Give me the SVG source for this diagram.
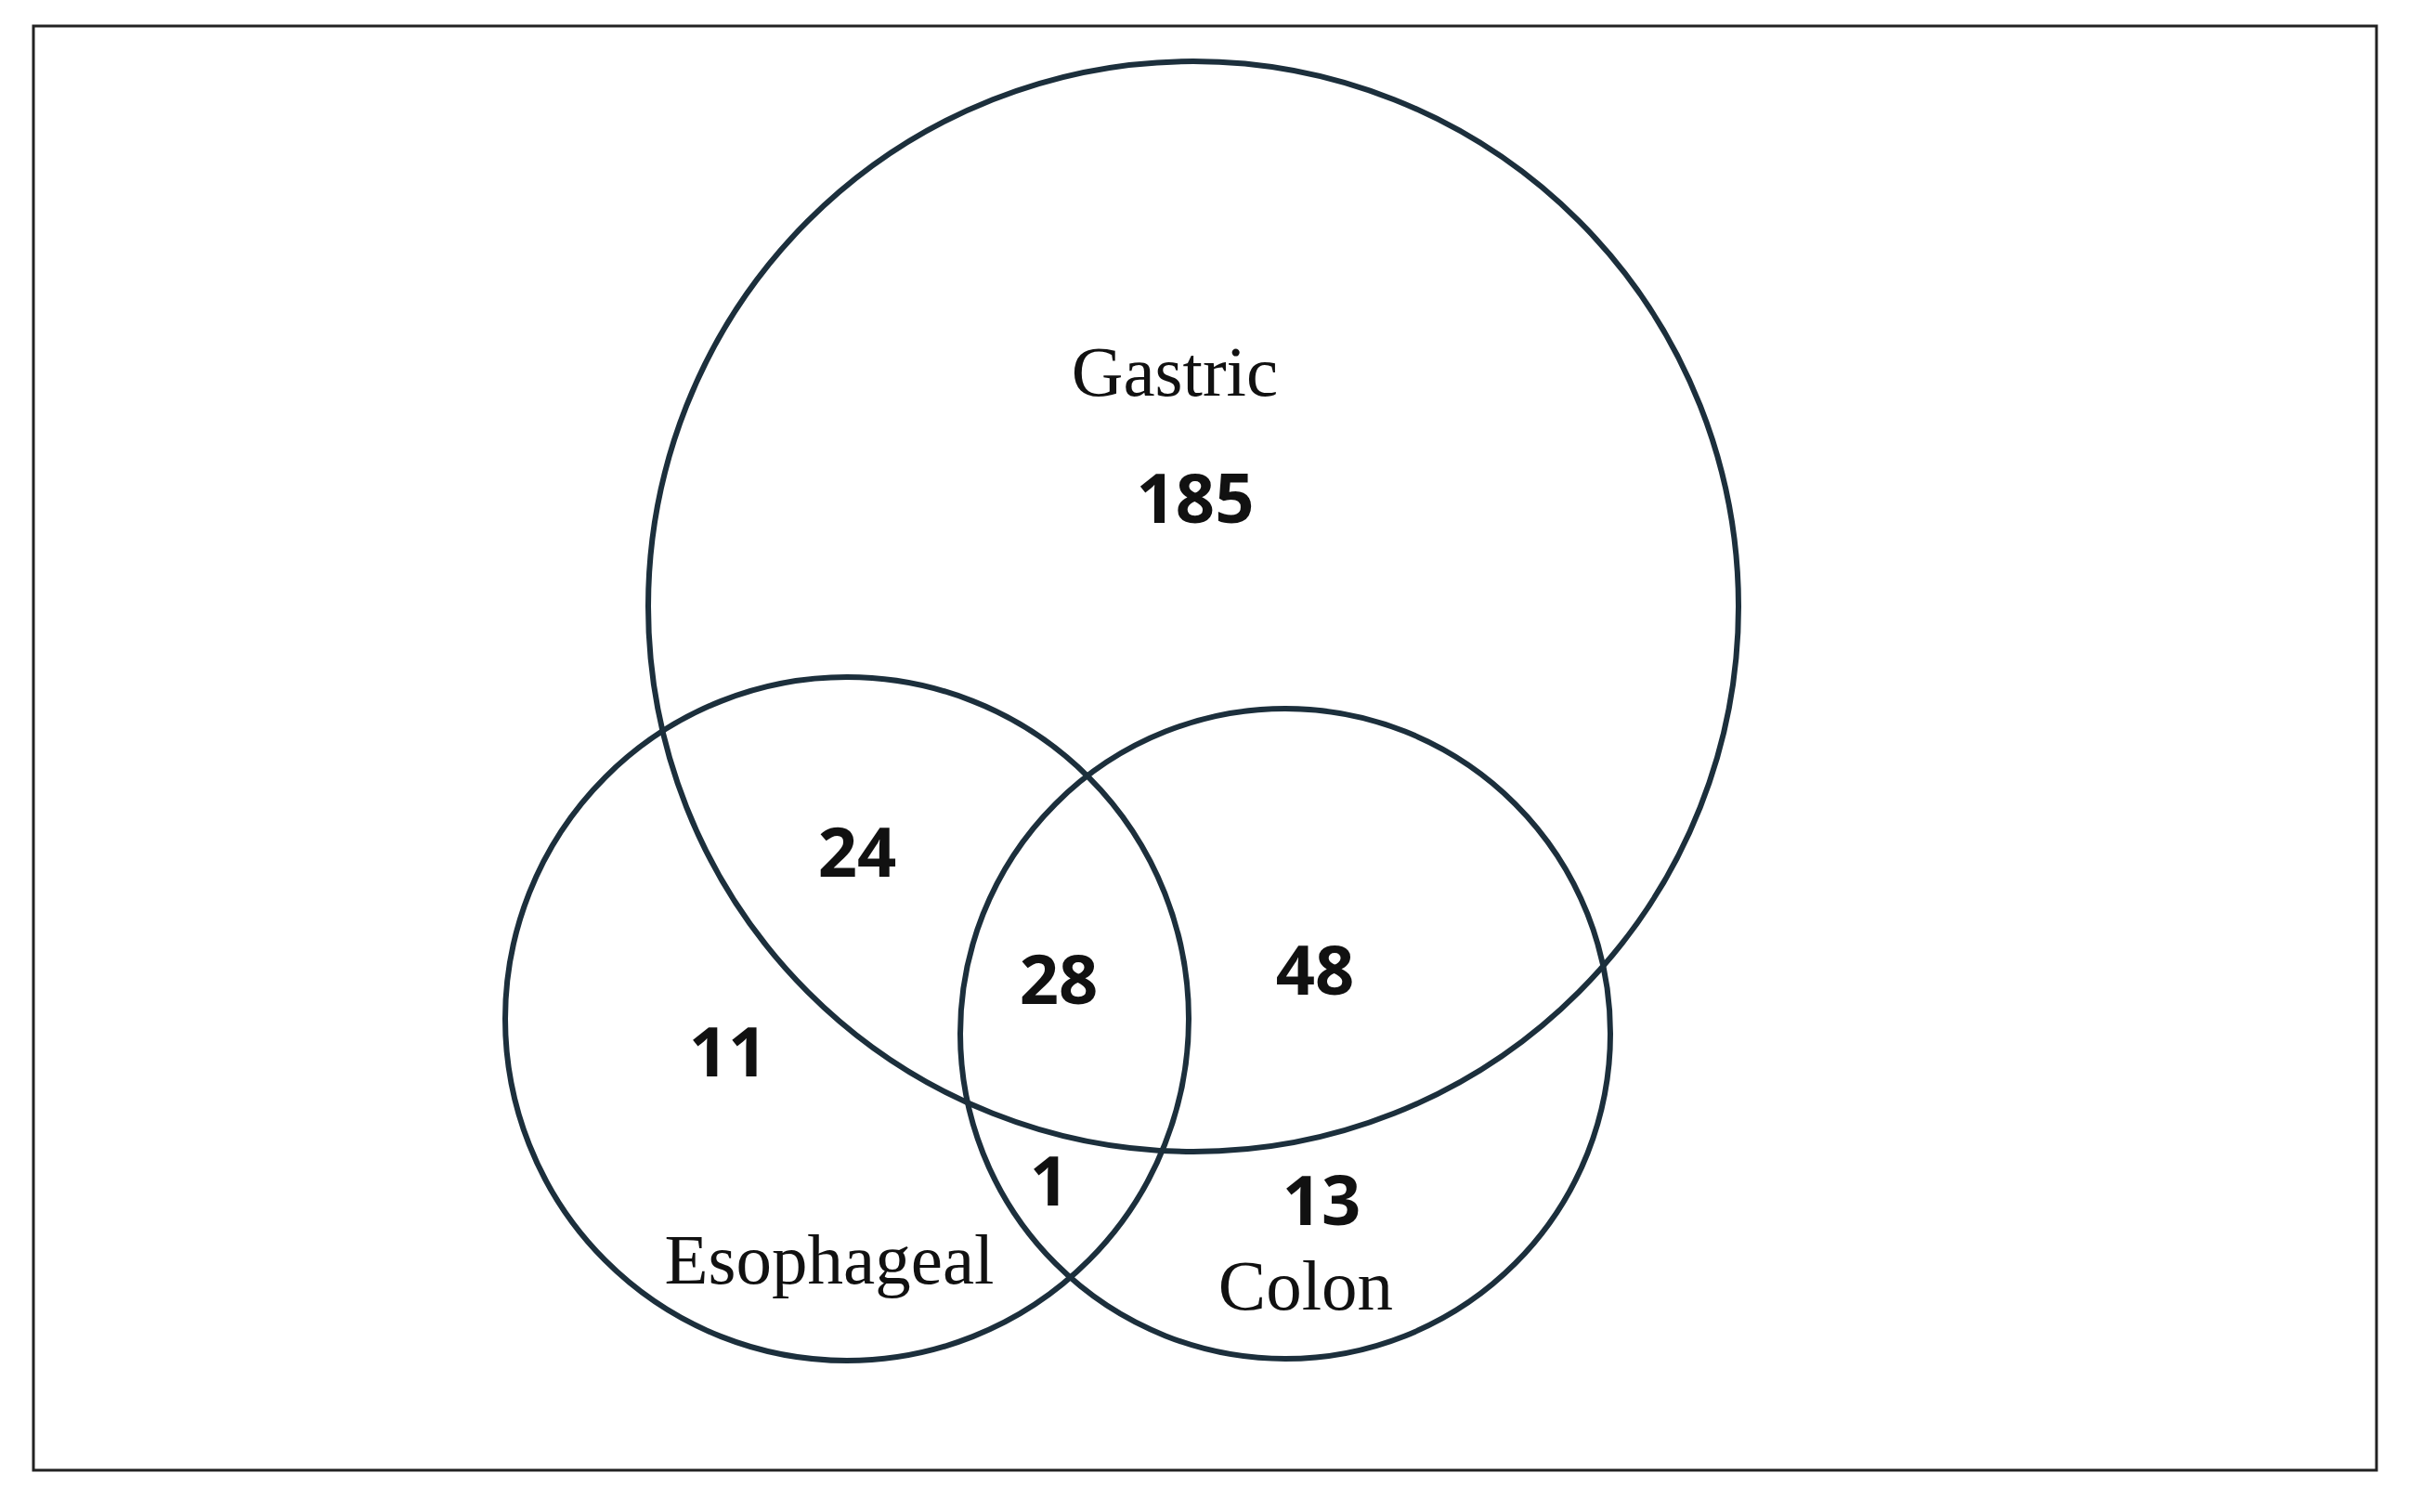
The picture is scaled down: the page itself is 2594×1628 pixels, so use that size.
<svg xmlns="http://www.w3.org/2000/svg" width="2594" height="1628" viewBox="0 0 2594 1628">
<style>
.c{fill:none;stroke:#1c2f3c;stroke-width:6}
.n{font-family:"Noto Sans","DejaVu Sans",sans-serif;font-weight:bold;font-size:74px;text-anchor:middle;dominant-baseline:central;fill:#111}
.l{font-family:"Liberation Serif",serif;font-size:77px;text-anchor:middle;dominant-baseline:central;fill:#111}
</style>
<rect width="2594" height="1628" fill="#fff"/>
<rect x="36" y="28" width="2523" height="1555" fill="none" stroke="#222" stroke-width="3"/>
<g id="gastric"><circle class="c" cx="1285" cy="653" r="587"/><text class="l" x="1265" y="400">Gastric</text></g>
<g id="esophageal"><circle class="c" cx="912" cy="1097" r="368"/><text class="l" x="893" y="1356">Esophageal</text></g>
<g id="colon"><circle class="c" cx="1384" cy="1113" r="350"/><text class="l" x="1406" y="1384">Colon</text></g>
<g id="counts">
<text class="n" x="1287" y="534">185</text>
<text class="n" x="923" y="915">24</text>
<text class="n" x="1140" y="1052">28</text>
<text class="n" x="1416" y="1042">48</text>
<text class="n" x="784" y="1130">11</text>
<text class="n" x="1130" y="1269">1</text>
<text class="n" x="1423" y="1290">13</text>
</g>
</svg>
